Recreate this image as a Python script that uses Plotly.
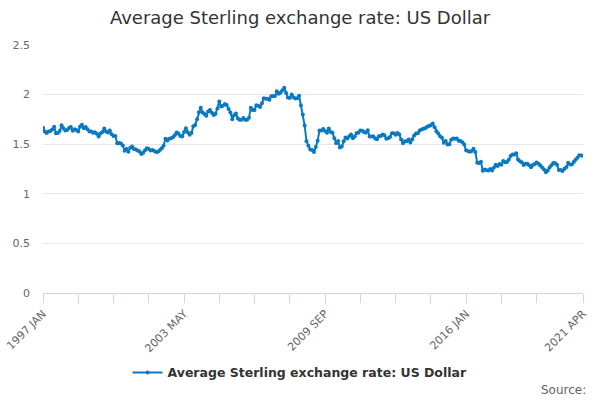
import plotly.graph_objects as go

# Monthly average Sterling / US Dollar rate, 1997 JAN .. 2021 APR
months = ['JAN', 'FEB', 'MAR', 'APR', 'MAY', 'JUN',
          'JUL', 'AUG', 'SEP', 'OCT', 'NOV', 'DEC']

rate_1997 = [1.6657, 1.6283, 1.6140, 1.6283, 1.6324, 1.6474, 1.6762, 1.6109, 1.6121, 1.6333, 1.6921, 1.6620]
rate_1998 = [1.6371, 1.6425, 1.6624, 1.6736, 1.6353, 1.6508, 1.6440, 1.6289, 1.6784, 1.6958, 1.6620, 1.6743]
rate_1999 = [1.6508, 1.6279, 1.6286, 1.6147, 1.6200, 1.6063, 1.5783, 1.6090, 1.6237, 1.6585, 1.6280, 1.6167]
rate_2000 = [1.6389, 1.6004, 1.5818, 1.5815, 1.5102, 1.5118, 1.5074, 1.4875, 1.4336, 1.4505, 1.4232, 1.4648]
rate_2001 = [1.4760, 1.4516, 1.4466, 1.4358, 1.4258, 1.4024, 1.4144, 1.4379, 1.4596, 1.4525, 1.4366, 1.4409]
rate_2002 = [1.4318, 1.4226, 1.4230, 1.4421, 1.4596, 1.4856, 1.5546, 1.5372, 1.5559, 1.5600, 1.5707, 1.5899]
rate_2003 = [1.6174, 1.6088, 1.5829, 1.5774, 1.6228, 1.6614, 1.6210, 1.5962, 1.6118, 1.6797, 1.6929, 1.7511]
rate_2004 = [1.8209, 1.8666, 1.8198, 1.8047, 1.7871, 1.8286, 1.8436, 1.8165, 1.7946, 1.8076, 1.8608, 1.9305]
rate_2005 = [1.8791, 1.8867, 1.9054, 1.8946, 1.8555, 1.8200, 1.7506, 1.7929, 1.8086, 1.7602, 1.7464, 1.7467]
rate_2006 = [1.7640, 1.7472, 1.7460, 1.7674, 1.8685, 1.8435, 1.8454, 1.8934, 1.8883, 1.8742, 1.9131, 1.9630]
rate_2007 = [1.9585, 1.9591, 1.9483, 1.9837, 1.9834, 1.9868, 2.0336, 2.0093, 2.0182, 2.0442, 2.0701, 2.0167]
rate_2008 = [1.9698, 1.9646, 2.0002, 1.9731, 1.9611, 1.9627, 1.9879, 1.8898, 1.7990, 1.6897, 1.5292, 1.4848]
rate_2009 = [1.4464, 1.4405, 1.4205, 1.4713, 1.5336, 1.6371, 1.6369, 1.6539, 1.6328, 1.6155, 1.6593, 1.6226]
rate_2010 = [1.6144, 1.5608, 1.5084, 1.5335, 1.4660, 1.4771, 1.5292, 1.5670, 1.5581, 1.5811, 1.5975, 1.5605]
rate_2011 = [1.5780, 1.6132, 1.6158, 1.6369, 1.6346, 1.6225, 1.6156, 1.6402, 1.5768, 1.5770, 1.5804, 1.5579]
rate_2012 = [1.5506, 1.5797, 1.5826, 1.5990, 1.5910, 1.5554, 1.5592, 1.5718, 1.6093, 1.6092, 1.5962, 1.6134]
rate_2013 = [1.5977, 1.5467, 1.5099, 1.5306, 1.5286, 1.5469, 1.5172, 1.5496, 1.5884, 1.6081, 1.6103, 1.6386]
rate_2014 = [1.6471, 1.6566, 1.6613, 1.6750, 1.6837, 1.6912, 1.7078, 1.6699, 1.6300, 1.6084, 1.5795, 1.5651]
rate_2015 = [1.5155, 1.5328, 1.4962, 1.4985, 1.5459, 1.5578, 1.5555, 1.5573, 1.5347, 1.5329, 1.5186, 1.4977]
rate_2016 = [1.4378, 1.4317, 1.4246, 1.4308, 1.4530, 1.4214, 1.3129, 1.3099, 1.3226, 1.2326, 1.2437, 1.2364]
rate_2017 = [1.2339, 1.2493, 1.2352, 1.2647, 1.2923, 1.2802, 1.2992, 1.2940, 1.3311, 1.3187, 1.3206, 1.3423]
rate_2018 = [1.3799, 1.3966, 1.3968, 1.4079, 1.3458, 1.3286, 1.3168, 1.2893, 1.3031, 1.3023, 1.2887, 1.2667]
rate_2019 = [1.2911, 1.3016, 1.3161, 1.3036, 1.2860, 1.2659, 1.2460, 1.2177, 1.2355, 1.2645, 1.2873, 1.3097]
rate_2020 = [1.3081, 1.2940, 1.2400, 1.2405, 1.2290, 1.2526, 1.2674, 1.3139, 1.2964, 1.2960, 1.3206, 1.3436]
rate_2021 = [1.3635, 1.3882, 1.3862, 1.3835]

yearly = [rate_1997, rate_1998, rate_1999, rate_2000, rate_2001, rate_2002,
          rate_2003, rate_2004, rate_2005, rate_2006, rate_2007, rate_2008,
          rate_2009, rate_2010, rate_2011, rate_2012, rate_2013, rate_2014,
          rate_2015, rate_2016, rate_2017, rate_2018, rate_2019, rate_2020,
          rate_2021]

labels = []
values = []
for i, yr in enumerate(yearly):
    for m, v in enumerate(yr):
        labels.append(f"{1997 + i} {months[m]}")
        values.append(v)

# tick every 19 months plus the last month, labels on every 4th tick
tick_idx = list(range(0, len(labels) - 19, 19)) + [len(labels) - 1]
tick_vals = [labels[i] for i in tick_idx]
tick_text = [labels[i] if (i % 76 == 0 or i == len(labels) - 1) else '' for i in tick_idx]

blue = '#0b79c0'
font = 'DejaVu Sans'

fig = go.Figure()
fig.add_trace(go.Scatter(
    x=labels, y=values, mode='lines+markers',
    name='Average Sterling exchange rate: US Dollar',
    line=dict(color=blue, width=2),
    marker=dict(color=blue, size=4),
))

fig.update_layout(
    width=600, height=400,
    margin=dict(l=43, r=17, t=45, b=107),
    paper_bgcolor='white', plot_bgcolor='white',
    font=dict(family=font, color='#666666', size=11),
    title=dict(text='Average Sterling exchange rate: US Dollar',
               x=0.5, xanchor='center', y=0.957, yanchor='middle',
               font=dict(family=font, size=18, color='#333333')),
    showlegend=True,
    legend=dict(orientation='h', xref='container', x=0.5, xanchor='center',
                yref='container', y=0.068, yanchor='middle',
                font=dict(family=font, size=12.5, color='#333333', weight='bold')),
    xaxis=dict(type='category', range=[0, len(labels) - 1], automargin=False,
               tickmode='array', tickvals=tick_vals, ticktext=tick_text,
               tickangle=-45, ticks='outside', ticklen=9, tickcolor='#ccd6eb',
               showline=True, linecolor='#ccd6eb', linewidth=1,
               showgrid=False, tickfont=dict(size=11, color='#666666')),
    yaxis=dict(range=[0, 2.5], dtick=0.5, showgrid=True, gridcolor='#e6e6e6',
               zeroline=False, ticks='', ticklabelstandoff=12, automargin=False,
               tickfont=dict(size=11, color='#666666')),
)

fig.add_annotation(text='Source:', xref='paper', yref='paper',
                   x=1.01, y=-0.393, xanchor='right', yanchor='middle',
                   showarrow=False, font=dict(family=font, size=12, color='#666666'))

# drop the page's default body margin so the 600x400 figure fills the window
fig.write_html("out.html", config={'displayModeBar': False},
               post_script="document.body.style.margin = '0';")
